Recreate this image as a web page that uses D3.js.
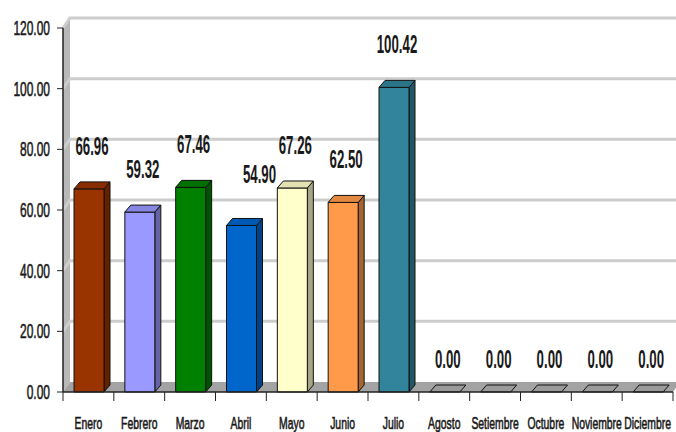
<!DOCTYPE html>
<html lang="es">
    <head>
        <meta charset="utf-8">
        <title>Meses</title>
        <script src="https://cdn.jsdelivr.net/npm/d3@7"></script>
        <style>
            body { margin: 0; background: #fff; }
            text { font-family: "Liberation Sans", Arial, sans-serif; fill: #1a1a1a; }
        </style>
    </head>

    <body>
        <script type="text/javascript">

            // datos del grafico
            var months = ["Enero","Febrero","Marzo","Abril","Mayo","Junio","Julio",
                          "Agosto","Setiembre","Octubre","Noviembre","Diciembre"];
            var values = [66.96, 59.32, 67.46, 54.90, 67.26, 62.50, 100.42, 0, 0, 0, 0, 0];
            var yTicks = [0, 20, 40, 60, 80, 100, 120];
            var barColors = ["#993300","#9999ff","#008000","#0066cc","#ffffcc","#ff9a4a","#31849b",
                             "#999999","#999999","#999999","#999999","#999999"];

            var width = 676;
            var height = 432;

            // 3d offsets: back wall and bar depth
            var wallDx = 7, wallDy = -10;
            var barDx = 6, barDy = -7;

            var svg = d3.select("body")
                .append("svg")
                .attr("width", width)
                .attr("height", height);

            var x = d3.scaleBand()
                .domain(months)
                .range([63, 673])
                .paddingInner(0)
                .paddingOuter(0);

            var y = d3.scaleLinear()
                .domain([0, 120])
                .range([392, 28]);

            function shade(c, k){
                return d3.color(c).darker(k).formatHex();
            }

            // draw narrow stretched text like the excel export
            function label(px, py, txt, size, sx, anchor, bold){
                var g = svg.append("g")
                    .attr("transform", "translate(" + px + "," + py + ") scale(" + sx + ",1)");
                var t = g.append("text")
                    .attr("x", 0)
                    .attr("y", 0)
                    .attr("text-anchor", anchor)
                    .style("font-size", size + "px")
                    .text(txt);
                if(bold){
                    t.style("font-weight", "bold");
                }
                else{
                    t.attr("stroke", "#1a1a1a").attr("stroke-width", 0.6);
                }
            }

            var x0 = x.range()[0], x1 = x.range()[1];

            // left wall
            svg.append("path")
                .attr("d", "M" + x0 + "," + y(120) + "L" + (x0 + wallDx) + "," + (y(120) + wallDy) +
                           "L" + (x0 + wallDx) + "," + (y(0) + wallDy) + "L" + x0 + "," + y(0) + "Z")
                .attr("fill", "#b8b8b8");

            // gridlines on back wall + left wall
            yTicks.forEach(function(t){
                var yy = y(t);
                if(t > 0){
                    svg.append("path")
                        .attr("d", "M" + x0 + "," + yy + "L" + (x0 + wallDx) + "," + (yy + wallDy) +
                                   "L" + (x1 + wallDx) + "," + (yy + wallDy))
                        .attr("fill", "none")
                        .attr("stroke", "#cdcdcd")
                        .attr("stroke-width", 3);
                }
            });

            // floor
            svg.append("path")
                .attr("d", "M" + x0 + "," + y(0) + "L" + (x0 + wallDx) + "," + (y(0) + wallDy) +
                           "L" + (x1 + wallDx) + "," + (y(0) + wallDy) + "L" + x1 + "," + y(0) + "Z")
                .attr("fill", "#a3a3a3");

            // bars
            var barW = 30;
            var barOff = 11;
            months.forEach(function(m, i){
                var bx = x(m) + barOff;
                var top = y(values[i]);
                var bot = y(0);
                var col = barColors[i];
                var g = svg.append("g")
                    .attr("stroke", "#111")
                    .attr("stroke-width", 1)
                    .attr("stroke-linejoin", "round");

                if(values[i] > 0){
                    // side
                    g.append("path")
                        .attr("d", "M" + (bx + barW) + "," + bot + "L" + (bx + barW) + "," + top +
                                   "L" + (bx + barW + barDx) + "," + (top + barDy) +
                                   "L" + (bx + barW + barDx) + "," + (bot + barDy) + "Z")
                        .attr("fill", shade(col, 1.2));
                    // front
                    g.append("rect")
                        .attr("x", bx)
                        .attr("y", top)
                        .attr("width", barW)
                        .attr("height", bot - top)
                        .attr("fill", col);
                }
                // top
                g.append("path")
                    .attr("d", "M" + bx + "," + top + "L" + (bx + barDx) + "," + (top + barDy) +
                               "L" + (bx + barW + barDx) + "," + (top + barDy) +
                               "L" + (bx + barW) + "," + top + "Z")
                    .attr("fill", values[i] > 0 ? shade(col, 0.35) : "#9a9a9a");
            });

            // axes
            svg.append("line")
                .attr("x1", x0).attr("x2", x0)
                .attr("y1", y(120)).attr("y2", y(0))
                .attr("stroke", "#222").attr("stroke-width", 1.5);
            svg.append("line")
                .attr("x1", x0).attr("x2", x1)
                .attr("y1", y(0)).attr("y2", y(0))
                .attr("stroke", "#222").attr("stroke-width", 1.5);

            yTicks.forEach(function(t){
                svg.append("line")
                    .attr("x1", x0 - 6).attr("x2", x0)
                    .attr("y1", y(t)).attr("y2", y(t))
                    .attr("stroke", "#222");
                label(50, y(t) + 7, t.toFixed(2), 21, 0.57, "end", false);
            });

            months.forEach(function(m, i){
                svg.append("line")
                    .attr("x1", x(m)).attr("x2", x(m))
                    .attr("y1", y(0)).attr("y2", y(0) + 9)
                    .attr("stroke", "#222");
                label(x(m) + x.bandwidth() / 2, 429, m, 16.5, 0.63, "middle", false);
            });
            svg.append("line")
                .attr("x1", x1).attr("x2", x1)
                .attr("y1", y(0)).attr("y2", y(0) + 9)
                .attr("stroke", "#222");

            // value labels (Abril got pushed aside by excel)
            var nudge = { "Abril": [15, -8] };
            months.forEach(function(m, i){
                var cx = x(m) + barOff + barW / 2 + 3;
                var by = values[i] > 0 ? y(values[i]) - 34 : y(0) - 24;
                if(nudge[m]){
                    cx += nudge[m][0];
                    by += nudge[m][1];
                }
                label(cx, by, values[i].toFixed(2), 25, 0.53, "middle", true);
            });
        </script>
    </body>
</html>
